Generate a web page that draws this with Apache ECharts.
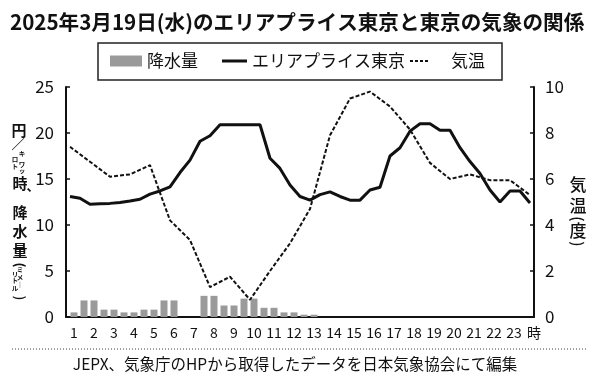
<!DOCTYPE html>
<html><head><meta charset="utf-8">
<script src="https://cdn.jsdelivr.net/npm/echarts@6/dist/echarts.min.js"></script>
<style>html,body{margin:0;padding:0;background:#fff}#c{width:600px;height:383px}</style>
</head><body><div id="c"></div>
<script>
// ---- data ----
const hourTicks = [1,2,3,4,5,6,7,8,9,10,11,12,13,14,15,16,17,18,19,20,21,22,23,24];
const hourLabels = ['1','2','3','4','5','6','7','8','9','10','11','12','13','14','15','16','17','18','19','20','21','22','23','時'];
// エリアプライス東京 (円/kWh), 30-minute values
const price = [13.1, 12.9, 12.25, 12.3, 12.35, 12.45, 12.6, 12.8, 13.35, 13.7,
  14.15, 15.7, 17.05, 19.1, 19.7, 20.9, 20.9, 20.9, 20.9, 20.9,
  17.25, 16.15, 14.35, 13.1, 12.7, 13.3, 13.6, 13.1, 12.7, 12.7,
  13.8, 14.1, 17.5, 18.4, 20.2, 21.0, 21.0, 20.3, 20.3, 18.4,
  16.9, 15.6, 13.8, 12.5, 13.7, 13.7, 12.4];
// 気温 (度), hourly values
const temperature = [7.4, 6.75, 6.1, 6.2, 6.6, 4.2, 3.35, 1.3, 1.75, 0.75, 2.0, 3.2,
  4.7, 7.9, 9.5, 9.8, 9.15, 8.15, 6.7, 6.0, 6.2, 5.95, 5.95, 5.3];
// 降水量 (mm), 30-minute values
const rain = [0.5, 1.8, 1.8, 0.8, 0.8, 0.5, 0.5, 0.8, 0.8, 1.8, 1.8, 0, 0,
  2.3, 2.3, 1.25, 1.25, 2.0, 2.0, 1.0, 1.0, 0.5, 0.5, 0.25, 0.25];

// ---- layout helpers ----
const FF = '"Noto Sans CJK JP", "Noto Sans", sans-serif';
const priceStart = 0.8, rainStart = 1.0, tempStart = 0.8;
const priceData = price.map((v, i) => [priceStart + 0.5 * i, v]);
const rainData = rain.map((v, i) => [rainStart + 0.5 * i, v]);
const tempData = temperature.map((v, i) => [tempStart + i, v]);

function t(text, x, y, size, weight, rot, align) {
  return { type: 'text', x: x, y: y, rotation: rot || 0, z: 10,
    style: { text: text, fontSize: size, fontWeight: weight || 'normal', fontFamily: FF,
      fill: '#111', align: align || 'center', verticalAlign: 'middle' } };
}
const ROT = -Math.PI / 2;
const labelTexts = [
  t('円', 19, 130, 15, 'bold'),
  t('／', 18, 144, 13, 'bold'),
  t('キ', 22, 154, 6.5, 'bold'), t('ロ', 15, 160, 6.5, 'bold'), t('ワ', 22, 165, 6.5, 'bold'),
  t('ト', 15, 167, 6.5, 'bold'), t('ッ', 22, 171, 6.5, 'bold'),
  t('時', 20, 183, 15, 'bold'), t('、', 33, 185, 13, 'bold'),
  t('降', 20, 212, 15, 'bold'), t('水', 20, 231, 15, 'bold'), t('量', 20, 250, 15, 'bold'),
  t('(', 20, 265, 13, 'bold', ROT),
  t('ミ', 20, 270, 6.5, 'bold'), t('リ', 15, 275, 6.5, 'bold'), t('メ', 20, 278, 6.5, 'bold'),
  t('ト', 15, 281, 6.5, 'bold'), t('｜', 20, 285, 6.5, 'bold'), t('ル', 15, 289, 6.5, 'bold'),
  t(')', 20, 298, 13, 'bold', ROT),
  t('気', 578, 185, 17, 500), t('温', 578, 206, 17, 500),
  t('(', 578, 219, 15, 500, ROT), t('度', 578, 231, 17, 500), t(')', 578, 244, 15, 500, ROT)
];

const legendText = { fontSize: 17, lineHeight: 22, color: '#111', fontFamily: FF };
const dashIcon = 'path://M0,0H3V2H0Z M5,0H8V2H5Z M10,0H13V2H10Z M15,0H18V2H15Z';
const chart = echarts.init(document.getElementById('c'), null, { renderer: 'canvas' });
chart.setOption({
  animation: false,
  backgroundColor: '#fff',
  textStyle: { fontFamily: FF },
  title: { text: '2025年3月19日(水)のエリアプライス東京と東京の気象の関係', left: 10, top: 12, padding: 0,
    textStyle: { fontSize: 20.6, fontWeight: 'bold', color: '#111', fontFamily: FF } },
  legend: [
    { data: ['降水量'], left: 110, top: 50, padding: 0, itemWidth: 32, itemHeight: 11, icon: 'rect',
      selectedMode: false, textStyle: legendText },
    { data: [{ name: 'エリアプライス東京', icon: 'rect' }], left: 222, top: 50, padding: 0, itemWidth: 25, itemHeight: 3,
      selectedMode: false, itemStyle: { color: '#111' }, textStyle: legendText },
    { data: [{ name: '気温', icon: dashIcon }], left: 410, top: 50, padding: 0, itemWidth: 18, itemHeight: 2,
      selectedMode: false, itemStyle: { color: '#111' },
      textStyle: Object.assign({}, legendText, { padding: [0, 0, 0, 18] }) }
  ],
  grid: { left: 66, right: 66, top: 87, bottom: 66 },
  xAxis: {
    type: 'value', min: 0.6, max: 24,
    axisLine: { show: true, lineStyle: { color: '#111', width: 2 } },
    axisTick: { show: false }, splitLine: { show: false },
    axisLabel: { customValues: hourTicks, formatter: v => hourLabels[hourTicks.indexOf(Math.round(v))],
      fontSize: 14, color: '#111', margin: 9, fontFamily: FF }
  },
  yAxis: [
    { type: 'value', min: 0, max: 25, interval: 5, position: 'left',
      axisLine: { show: true, lineStyle: { color: '#111', width: 2 } },
      axisTick: { show: true, inside: true, length: 4, lineStyle: { color: '#111', width: 1.5 } },
      splitLine: { show: false },
      axisLabel: { fontSize: 17, color: '#111', margin: 12, fontFamily: FF } },
    { type: 'value', min: 0, max: 10, interval: 2, position: 'right',
      axisLine: { show: true, lineStyle: { color: '#111', width: 2 } },
      axisTick: { show: true, inside: true, length: 4, lineStyle: { color: '#111', width: 1.5 } },
      splitLine: { show: false },
      axisLabel: { fontSize: 17, color: '#111', margin: 11, fontFamily: FF } }
  ],
  series: [
    { name: '降水量', type: 'bar', barWidth: 7, itemStyle: { color: '#9a9a9a' }, data: rainData, z: 1 },
    { name: 'エリアプライス東京', type: 'line', symbol: 'none', lineStyle: { color: '#111', width: 3 },
      itemStyle: { color: '#111' }, data: priceData, z: 3 },
    { name: '気温', type: 'line', yAxisIndex: 1, symbol: 'none',
      lineStyle: { color: '#111', width: 2, type: [4, 2] }, itemStyle: { color: '#111' }, data: tempData, z: 2 }
  ],
  graphic: [
    { type: 'rect', shape: { x: 98, y: 43, width: 404, height: 37 },
      style: { fill: 'none', stroke: '#222', lineWidth: 1.5 }, z: 0 },
    { type: 'line', shape: { x1: 12, y1: 349, x2: 587, y2: 349 },
      style: { stroke: '#444', lineWidth: 1, lineDash: [1, 2] } },
    { type: 'text', x: 295, y: 364,
      style: { text: 'JEPX、気象庁のHPから取得したデータを日本気象協会にて編集', fontSize: 15.5,
        fontFamily: FF, fill: '#111', align: 'center', verticalAlign: 'middle' } }
  ].concat(labelTexts)
});
</script></body></html>
